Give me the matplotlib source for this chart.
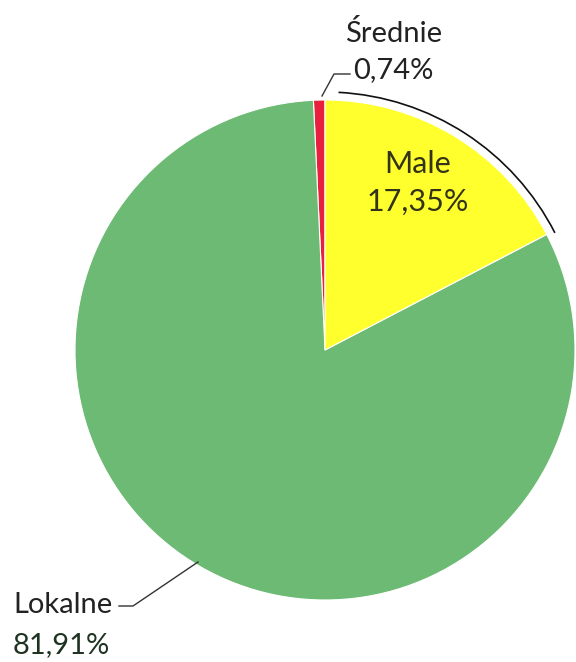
import matplotlib
matplotlib.use("Agg")
import matplotlib.pyplot as plt
from matplotlib.patches import Arc

# Data (slice order: counter-clockwise from the top)
categories = ["Średnie", "Lokalne", "Male"]
shares = [0.74, 81.91, 17.35]
share_labels = ["0,74%", "81,91%", "17,35%"]
colors = ["#e8203e", "#6dba74", "#ffff2e"]

W, H = 576, 662
fig = plt.figure(figsize=(W / 100, H / 100), dpi=100)
ax = fig.add_axes([0, 0, 1, 1])

cx, cy, r = 325, H - 350, 250
ax.pie(shares, colors=colors, startangle=90, counterclock=True,
       center=(cx, cy), radius=r, frame=True,
       wedgeprops=dict(linewidth=0.8, edgecolor="white"))
ax.set_xlim(0, W)
ax.set_ylim(0, H)
ax.set_aspect("equal")
ax.axis("off")

font = ["Lato", "DejaVu Sans"]
fs = 21

# Średnie label
ax.text(394, H - 33, categories[0], ha="center", va="center", fontsize=fs, family=font, color="#222222")
ax.text(353, H - 70, share_labels[0], ha="left", va="center", fontsize=fs, family=font, color="#222222")
ax.plot([350, 334, 322], [H - 74, H - 74, H - 96], color="#333333", lw=1)

# Male label
ax.text(418, H - 164, categories[2], ha="center", va="center", fontsize=fs + 1, family=font, color="#33331a")
ax.text(418, H - 202, share_labels[2], ha="center", va="center", fontsize=fs + 1, family=font, color="#33331a")

# Bracket arc around the small slices
ax.add_patch(Arc((cx, cy), 2 * 258, 2 * 258, theta1=27, theta2=87, color="#111111", lw=1.2))

# Lokalne label
ax.text(13, H - 605, categories[1], ha="left", va="center", fontsize=fs, family=font, color="#222222")
ax.text(13, H - 645, share_labels[1], ha="left", va="center", fontsize=fs, family=font, color="#1f3322")
ax.plot([119, 133, 198], [H - 606, H - 606, H - 562], color="#333333", lw=1)

fig.savefig("out.png", dpi=100, facecolor="white")
